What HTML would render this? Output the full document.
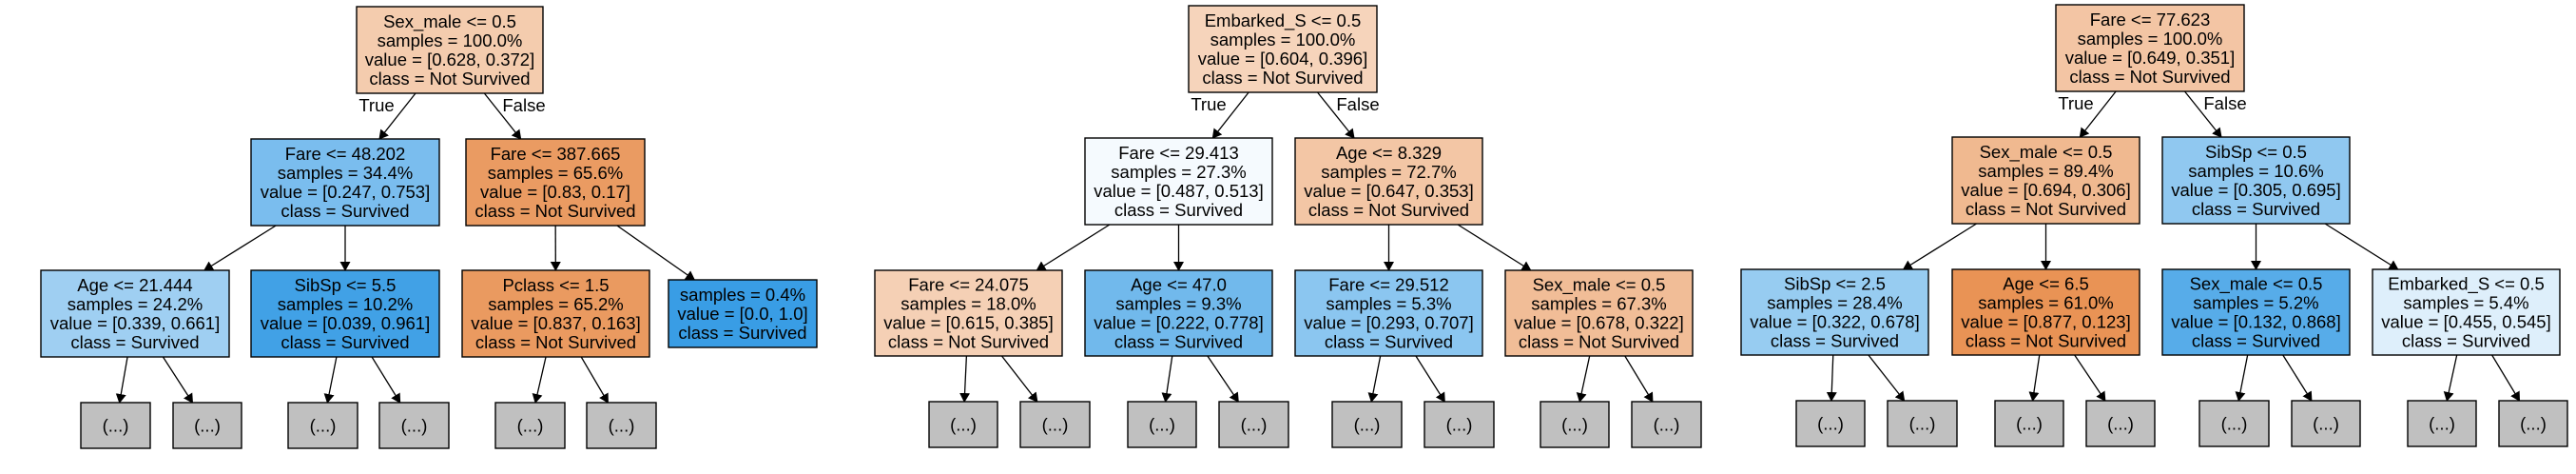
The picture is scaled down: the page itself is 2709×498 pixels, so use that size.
<!DOCTYPE html>
<html><head><meta charset="utf-8"><style>
html,body{margin:0;padding:0;background:#fff;}
svg{display:block;}
text{font-family:"Liberation Sans",Arial,sans-serif;font-size:18.5px;fill:#000;}
</style></head><body>
<svg id="chart" width="2709" height="498" viewBox="0 0 2709 498" xmlns="http://www.w3.org/2000/svg">
<defs><marker id="arr" markerWidth="10" markerHeight="13" refX="9" refY="6.5" orient="auto" markerUnits="userSpaceOnUse"><path d="M0,1 L10,6.5 L0,12 z" fill="#000"/></marker></defs>
</svg>
<script>
// ---- data ----
const treeIds = [0,0,0,0,0,0,0, 1,1,1,1,1,1,1, 2,2,2,2,2,2,2];
const parents = [-1,0,0,1,1,2,2, -1,7,7,8,8,9,9, -1,14,14,15,15,16,16];
const features = ["Sex_male <= 0.5","Fare <= 48.202","Fare <= 387.665","Age <= 21.444","SibSp <= 5.5","Pclass <= 1.5","",
 "Embarked_S <= 0.5","Fare <= 29.413","Age <= 8.329","Fare <= 24.075","Age <= 47.0","Fare <= 29.512","Sex_male <= 0.5",
 "Fare <= 77.623","Sex_male <= 0.5","SibSp <= 0.5","SibSp <= 2.5","Age <= 6.5","Sex_male <= 0.5","Embarked_S <= 0.5"];
const samples = [100.0,34.4,65.6,24.2,10.2,65.2,0.4, 100.0,27.3,72.7,18.0,9.3,5.3,67.3, 100.0,89.4,10.6,28.4,61.0,5.2,5.4];
const valNot = [0.628,0.247,0.83,0.339,0.039,0.837,0.0, 0.604,0.487,0.647,0.615,0.222,0.293,0.678, 0.649,0.694,0.305,0.322,0.877,0.132,0.455];
const valSurv = [0.372,0.753,0.17,0.661,0.961,0.163,1.0, 0.396,0.513,0.353,0.385,0.778,0.707,0.322, 0.351,0.306,0.695,0.678,0.123,0.868,0.545];
const classNames = ["Not Survived","Survived"];
const leafParents = [3,3,4,4,5,5, 10,10,11,11,12,12,13,13, 17,17,18,18,19,19,20,20];
// ---- layout ----
const levelOf = [0,1,1,2,2,2,2, 0,1,1,2,2,2,2, 0,1,1,2,2,2,2];
const boxX = [[375,571],[264,462],[490,678],[43,241],[264,462],[486,683],[703,859],
 [1250,1448],[1141,1338],[1362,1559],[920,1117],[1141,1338],[1362,1559],[1583,1780],
 [2162,2360],[2053,2250],[2274,2471],[1831,2028],[2053,2250],[2274,2471],[2495,2692]];
const leafX = [[85,158],[182,254],[303,376],[399,472],[521,594],[617,690],
 [977,1049],[1073,1146],[1186,1258],[1282,1355],[1401,1474],[1498,1571],[1620,1692],[1716,1789],
 [1889,1961],[1985,2058],[2098,2170],[2194,2266],[2313,2386],[2410,2482],[2532,2604],[2628,2700]];
const levY = [[[7,98],[146,237],[284,375],[423,471]],[[6,97],[145,236],[284,374],[422,470]],[[5,96],[144,235],[283,373],[421,469]]];

const svg = document.getElementById('chart');
const NS = "http://www.w3.org/2000/svg";
function mk(tag, attrs){const e=document.createElementNS(NS,tag);for(const k in attrs)e.setAttribute(k,attrs[k]);return e;}
const gEdges = mk('g',{}); const gNodes = mk('g',{});
svg.appendChild(gEdges); svg.appendChild(gNodes);

function fillColor(a,b){
  const mx=Math.max(a,b), mn=Math.min(a,b);
  const alpha = mn>=1?0:(mx-mn)/(1-mn);
  const c = a>=b?[229,129,57]:[57,157,229];
  return 'rgb('+c.map(v=>Math.round(alpha*v+(1-alpha)*255)).join(',')+')';
}
const boxes=[];
for(let i=0;i<features.length;i++){
  const t=treeIds[i]; let [y0,y1]=levY[t][levelOf[i]];
  if(features[i]===""){ y0=294; y1=365; }
  const [x0,x1]=boxX[i];
  boxes.push({x0,x1,y0,y1});
  const g=mk('g',{});
  
  
  const r=mk('rect',{x:x0,y:y0,width:x1-x0,height:y1-y0,fill:fillColor(valNot[i],valSurv[i]),stroke:'#000','stroke-width':1.4});
  
  
  g.appendChild(r);
  const lines=[];
  if(features[i]) lines.push(features[i]);
  lines.push('samples = '+samples[i].toFixed(1)+'%');
  lines.push('value = ['+valNot[i]+', '+valSurv[i]+']'.replace(/\[(\d)\b(?!\.)/,'[$1'));
  lines.push('class = '+classNames[valSurv[i]>valNot[i]?1:0]);
  const cx=(x0+x1)/2, cy=(y0+y1)/2, lh=20;
  lines.forEach((s,k)=>{
    const tx=mk('text',{x:cx,y:cy+(k-(lines.length-1)/2)*lh+6.5,'text-anchor':'middle'});
    tx.textContent=s.replace('[0, 1]','[0.0, 1.0]');
    
    
    g.appendChild(tx);
  });
  gNodes.appendChild(g);
}
// fix value formatting for s0.4 node
function edge(p,c,name){
  const pcx=(p.x0+p.x1)/2,pcy=(p.y0+p.y1)/2,ccx=(c.x0+c.x1)/2,ccy=(c.y0+c.y1)/2;
  const t0=(p.y1-pcy)/(ccy-pcy), t1=(c.y0-pcy)/(ccy-pcy);
  const l=mk('line',{x1:pcx+(ccx-pcx)*t0,y1:p.y1,x2:pcx+(ccx-pcx)*t1,y2:c.y0,stroke:'#000','stroke-width':1.3,'marker-end':'url(#arr)'});
  
  
  gEdges.appendChild(l);
}
for(let i=0;i<features.length;i++) if(parents[i]>=0) edge(boxes[parents[i]],boxes[i],'edge');
leafParents.forEach((p,j)=>{
  const t=treeIds[p]; const [y0,y1]=levY[t][3]; const [x0,x1]=leafX[j];
  const b={x0,x1,y0,y1};
  edge(boxes[p],b,'edge-to-truncated');
  const g=mk('g',{});
  
  
  g.appendChild(mk('rect',{x:x0,y:y0,width:x1-x0,height:y1-y0,fill:'#c0c0c0',stroke:'#000','stroke-width':1.4}));
  const tx=mk('text',{x:(x0+x1)/2,y:(y0+y1)/2+6.5,'text-anchor':'middle'});
  tx.textContent='(...)';
  g.appendChild(tx);
  gNodes.appendChild(g);
});
// True / False labels
[0,7,14].forEach((r,k)=>{
  const b=boxes[r];
  const t=mk('text',{x:b.x0+21,y:b.y1+19,'text-anchor':'middle'}); t.textContent='True';
  
  
  const f=mk('text',{x:b.x1-20,y:b.y1+19,'text-anchor':'middle'}); f.textContent='False';
  
  
  svg.appendChild(t); svg.appendChild(f);
});
</script>
</body></html>
